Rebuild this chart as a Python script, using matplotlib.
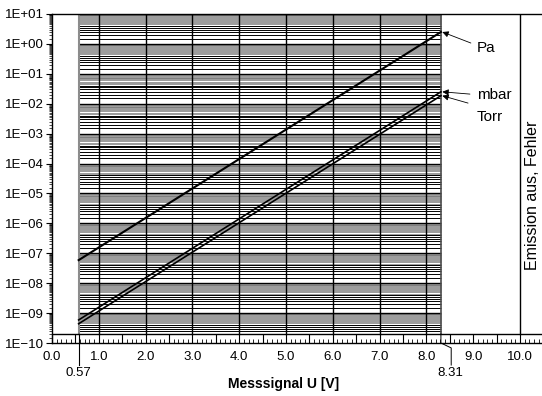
import numpy as np
import matplotlib
matplotlib.use('Agg')
import matplotlib.pyplot as plt
from matplotlib import transforms
from matplotlib.ticker import MultipleLocator, FixedLocator, FuncFormatter

plt.rcParams['font.family'] = ['Liberation Sans', 'DejaVu Sans']

# Messsignal (V) and pressure at the ends of the characteristic lines
U = [0.57, 8.31]
p_pa = [5.9e-8, 2.5]
p_mbar = [5.9e-10, 2.5e-2]
p_torr = [4.4e-10, 1.85e-2]
labels = ['Pa', 'mbar', 'Torr']
label_pos = [0.73, 1.95e-2, 3.6e-3]       # text positions (y) of the unit labels
arrow_tail = [(8.95, 1.07), (8.93, 2.1e-2), (8.89, 1.05e-2)]

fig = plt.figure(figsize=(5.42, 3.96), dpi=100)
ax = fig.add_axes([52 / 542, 1 - 343 / 396, 490 / 542, 329 / 396])
ax.set_yscale('log')
ax.set_xlim(0, 10.47)
ax.set_ylim(1e-10, 1e1)

# dense log grid only between 0.57 V and 8.31 V
y_bot = 2e-10
for k in range(-10, 1):
    for v in np.arange(1.0, 10.0, 0.5):
        y = v * 10.0 ** k
        if y < y_bot or y > 10:
            continue
        if v == 1.0:
            ax.hlines(y, U[0], U[1], color='black', lw=1.0, zorder=1)
        elif v < 4.5:
            ax.hlines(y, U[0], U[1], color='black', lw=0.7, zorder=1)
        else:
            ax.hlines(y, U[0], U[1], color='0.45', lw=0.5, zorder=1)
ax.hlines(10, U[0], U[1], color='black', lw=1.0, zorder=1)
for xv in range(1, 9):
    ax.plot([xv, xv], [y_bot, 10], color='black', lw=1.0, zorder=2)
ax.plot([U[0], U[0]], [y_bot, 10], color='0.55', lw=1.5, zorder=2)
ax.plot([U[1], U[1]], [y_bot, 10], color='0.3', lw=1.2, zorder=2)

# frame pieces
ax.axhline(y_bot, color='black', lw=1.0, zorder=3)
ax.plot([10, 10], [y_bot, 10], color='black', lw=1.0, zorder=3)

# characteristic lines
ax.plot(U, p_pa, color='black', lw=1.5, zorder=4)
ax.plot(U, p_mbar, color='black', lw=1.2, zorder=4)
ax.plot(U, p_torr, color='black', lw=1.2, zorder=4)

ends = [p_pa[1], p_mbar[1], p_torr[1]]
for lab, ly, tail, yend in zip(labels, label_pos, arrow_tail, ends):
    ax.annotate('', xy=(U[1] + 0.03, yend), xytext=tail,
                arrowprops=dict(arrowstyle='-|>', color='black', lw=0.6,
                                mutation_scale=9, shrinkA=0, shrinkB=0))
    ax.text(9.08, ly, lab, fontsize=11, va='center', ha='left')

ax.text(10.26, 10 ** (-10 + 11 * 0.45), 'Emission aus, Fehler', rotation=90,
        fontsize=11.5, va='center', ha='center')

# leader lines for 0.57 / 8.31
blend = transforms.blended_transform_factory(ax.transData, ax.transAxes)
ax.plot([U[0], U[0]], [0.027, -0.067], color='black', lw=0.8,
        transform=blend, clip_on=False)
ax.plot([U[1], U[1], 8.53, 8.53], [0.027, 0.0, -0.015, -0.067], color='black',
        lw=0.7, transform=blend, clip_on=False)
ax.text(U[0], -0.091, '0.57', fontsize=9.5, ha='center', va='center', transform=blend)
ax.text(8.52, -0.091, '8.31', fontsize=9.5, ha='center', va='center', transform=blend)
ax.text(4.95, -0.125, 'Messsignal U [V]', fontsize=10, fontweight='bold',
        ha='center', va='center', transform=blend)

# axes / ticks
ax.spines['right'].set_visible(False)
for s in ['left', 'top', 'bottom']:
    ax.spines[s].set_linewidth(1.0)

ax.xaxis.set_major_locator(MultipleLocator(0.5))
ax.xaxis.set_minor_locator(MultipleLocator(0.1))
ax.xaxis.set_major_formatter(FuncFormatter(
    lambda x, p: f'{x:.1f}' if abs(x - round(x)) < 1e-6 and x <= 10 else ''))
ax.tick_params(axis='x', which='major', direction='in', length=6.5, width=0.8,
               pad=6, labelsize=9.5)
ax.tick_params(axis='x', which='minor', direction='in', length=3, width=0.6)

dec = [10.0 ** k for k in range(-10, 2)]
ax.yaxis.set_major_locator(FixedLocator(dec))
minors = [v * 10.0 ** k for k in range(-10, 1) for v in np.arange(1.5, 10, 0.5)]
ax.yaxis.set_minor_locator(FixedLocator(minors))


def yfmt(y, pos):
    e = int(round(np.log10(y)))
    return '1E' + ('+' if e >= 0 else '\u2212') + f'{abs(e):02d}'


ax.yaxis.set_major_formatter(FuncFormatter(yfmt))
ax.yaxis.set_minor_formatter(FuncFormatter(lambda y, p: ''))
ax.tick_params(axis='y', which='major', direction='out', length=4, width=0.8,
               pad=2, labelsize=9.5)
ax.tick_params(axis='y', which='minor', direction='out', length=2.5, width=0.5)

fig.savefig('out.png', dpi=100)
